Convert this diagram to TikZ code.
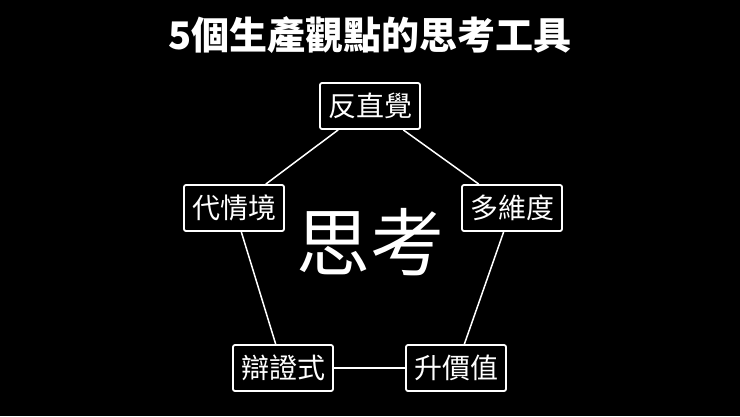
\documentclass[tikz,border=0pt]{standalone}
\usepackage{fontspec}
\newfontfamily\cjk{Noto Sans CJK TC}
\begin{document}
\begin{tikzpicture}[x=1pt,y=-1pt,
    idea/.style={draw=white, line width=1.8pt, rounded corners=2pt, fill=black, text=white,
      minimum height=46pt, inner xsep=8pt, font=\cjk\fontsize{28}{28}\selectfont}]
    \fill[black] (0,0) rectangle (740,416);
    \node[text=white, font=\cjk\bfseries\fontsize{38}{38}\selectfont] (title) at (370,35) {5個生產觀點的思考工具};
    \node[text=white, font=\cjk\fontsize{74}{74}\selectfont] (core) at (370,242) {思考};

    \node[idea] (fan) at (370,106) {反直覺};
    \node[idea] (dai) at (234,208) {代情境};
    \node[idea] (duo) at (512,208) {多維度};
    \node[idea] (bian) at (283,368) {辯證式};
    \node[idea] (sheng) at (456,368) {升價值};

    \path [draw=white, line width=1.5pt] (fan) -- (dai);
    \path [draw=white, line width=1.5pt] (fan) -- (duo);
    \path [draw=white, line width=1.5pt] (dai) -- (bian);
    \path [draw=white, line width=1.5pt] (duo) -- (sheng);
    \path [draw=white, line width=1.5pt] (bian) -- (sheng);
\end{tikzpicture}
\end{document}
